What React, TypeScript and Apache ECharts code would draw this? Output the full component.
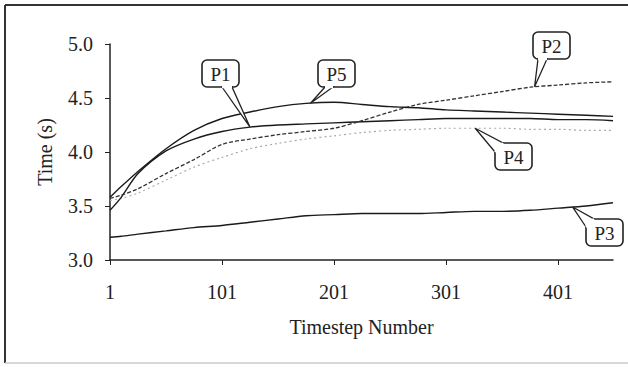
import React, { useEffect, useRef } from "react";
import * as echarts from "echarts";

const timesteps = [1, 11, 26, 51, 76, 101, 126, 151, 176, 201, 226, 251, 276, 301, 326, 351, 376, 401, 426, 450];
const p1 = [3.46, 3.58, 3.8, 4.01, 4.12, 4.19, 4.23, 4.25, 4.26, 4.27, 4.28, 4.29, 4.3, 4.31, 4.31, 4.31, 4.31, 4.3, 4.3, 4.29];
const p2 = [3.57, 3.6, 3.66, 3.8, 3.93, 4.07, 4.12, 4.16, 4.19, 4.22, 4.29, 4.37, 4.44, 4.48, 4.52, 4.56, 4.6, 4.62, 4.64, 4.65];
const p3 = [3.21, 3.22, 3.24, 3.27, 3.3, 3.32, 3.35, 3.38, 3.41, 3.42, 3.43, 3.43, 3.43, 3.44, 3.45, 3.45, 3.46, 3.48, 3.5, 3.53];
const p4 = [3.55, 3.57, 3.62, 3.74, 3.86, 3.95, 4.03, 4.08, 4.12, 4.15, 4.18, 4.2, 4.21, 4.22, 4.22, 4.22, 4.21, 4.21, 4.2, 4.2];
const p5 = [3.58, 3.68, 3.82, 4.03, 4.2, 4.31, 4.37, 4.42, 4.45, 4.46, 4.44, 4.42, 4.41, 4.39, 4.38, 4.37, 4.36, 4.35, 4.34, 4.33];
const seriesNames = ["P1", "P2", "P3", "P4", "P5"];
const seriesValues = [p1, p2, p3, p4, p5];
const xTickValues = [1, 101, 201, 301, 401];

// callout layout: tip timestep, box position, pointer base points
const callouts = [
  { s: 0, at: 126, box: [202, 60], base: [[222, 87], [232, 87]] },
  { s: 4, at: 180, box: [318, 60], base: [[325, 87], [333, 87]] },
  { s: 1, at: 380, box: [533, 32], base: [[538, 59], [547, 59]] },
  { s: 3, at: 327, box: [495, 143], base: [[495, 152], [503, 143]] },
  { s: 2, at: 414, box: [586, 219], base: [[586, 227], [594, 219]] },
];

const FONT = "'Liberation Serif', 'DejaVu Serif', serif";

function valueAt(vals: number[], x: number) {
  for (let i = 0; i < timesteps.length - 1; i++) {
    if (x >= timesteps[i] && x <= timesteps[i + 1]) {
      const t = (x - timesteps[i]) / (timesteps[i + 1] - timesteps[i]);
      return vals[i] + t * (vals[i + 1] - vals[i]);
    }
  }
  return vals[vals.length - 1];
}

export default function App() {
  const ref = useRef<HTMLDivElement>(null);
  useEffect(() => {
    if (!ref.current) return;
    const chart = echarts.init(ref.current, null, { renderer: "svg" });
    const styles = [
      { color: "#1a1a1a", width: 1.4, type: "solid" },
      { color: "#333", width: 1.3, type: [4, 2] },
      { color: "#1a1a1a", width: 1.4, type: "solid" },
      { color: "#aaa", width: 1.2, type: [2, 3] },
      { color: "#1a1a1a", width: 1.4, type: "solid" },
    ];
    chart.setOption({
      animation: false,
      backgroundColor: "#fff",
      grid: { left: 110, right: 15, top: 44, bottom: 107 },
      xAxis: {
        type: "value",
        min: 1,
        max: 450,
        name: "Timestep Number",
        nameLocation: "middle",
        nameGap: 57,
        nameTextStyle: { fontFamily: FONT, fontSize: 20, color: "#222" },
        axisLine: { lineStyle: { color: "#222", width: 1.5 } },
        axisTick: { show: true, customValues: xTickValues, length: 5, lineStyle: { color: "#222" } },
        axisLabel: { customValues: xTickValues, fontFamily: FONT, fontSize: 20, color: "#222", margin: 22 },
        splitLine: { show: false },
      },
      yAxis: {
        type: "value",
        min: 3,
        max: 5,
        interval: 0.5,
        name: "Time (s)",
        nameLocation: "middle",
        nameRotate: 90,
        nameGap: 55,
        nameTextStyle: { fontFamily: FONT, fontSize: 20, color: "#222" },
        axisLine: { show: true, lineStyle: { color: "#222", width: 1.5 } },
        axisTick: { show: true, length: 5, lineStyle: { color: "#222" } },
        axisLabel: { fontFamily: FONT, fontSize: 20, color: "#222", margin: 17, formatter: (v: number) => v.toFixed(1) },
        splitLine: { show: false },
      },
      series: seriesValues.map((vals, i) => ({
        name: seriesNames[i],
        type: "line",
        showSymbol: false,
        smooth: 0.3,
        data: timesteps.map((t, j) => [t, vals[j]]),
        lineStyle: styles[i],
        z: i === 3 ? 1 : 2,
      })),
    });

    const graphics: any[] = [
      { type: "line", shape: { x1: 5, y1: 5, x2: 628, y2: 5 }, style: { stroke: "#333", lineWidth: 2 } },
      { type: "line", shape: { x1: 5, y1: 5, x2: 5, y2: 363 }, style: { stroke: "#333", lineWidth: 2 } },
      { type: "line", shape: { x1: 5, y1: 363, x2: 628, y2: 363 }, style: { stroke: "#ccc", lineWidth: 1.5 } },
    ];
    callouts.forEach((c) => {
      const v = valueAt(seriesValues[c.s], c.at);
      const tip = chart.convertToPixel({ gridIndex: 0 }, [c.at, v]) as number[];
      const w = 37;
      const h = 27;
      graphics.push({
        type: "rect",
        shape: { x: c.box[0], y: c.box[1], width: w, height: h, r: 5 },
        style: { fill: "#fff", stroke: "#222", lineWidth: 1.6 },
        z: 100,
      });
      graphics.push({
        type: "polygon",
        shape: { points: [c.base[0], tip, c.base[1]] },
        style: { fill: "#fff", stroke: "#222", lineWidth: 1.3 },
        z: 101,
      });
      graphics.push({
        type: "line",
        shape: { x1: c.base[0][0], y1: c.base[0][1], x2: c.base[1][0], y2: c.base[1][1] },
        style: { stroke: "#fff", lineWidth: 2.5 },
        z: 102,
      });
      graphics.push({
        type: "text",
        x: c.box[0] + w / 2,
        y: c.box[1] + h / 2 + 1,
        style: {
          text: seriesNames[c.s],
          fontFamily: FONT,
          fontSize: 19,
          fill: "#222",
          align: "center",
          verticalAlign: "middle",
        },
        z: 103,
      });
    });
    chart.setOption({ graphic: graphics });
    return () => chart.dispose();
  }, []);
  return <div ref={ref} style={{ position: "fixed", left: 0, top: 0, width: 628, height: 367 }} />;
}
